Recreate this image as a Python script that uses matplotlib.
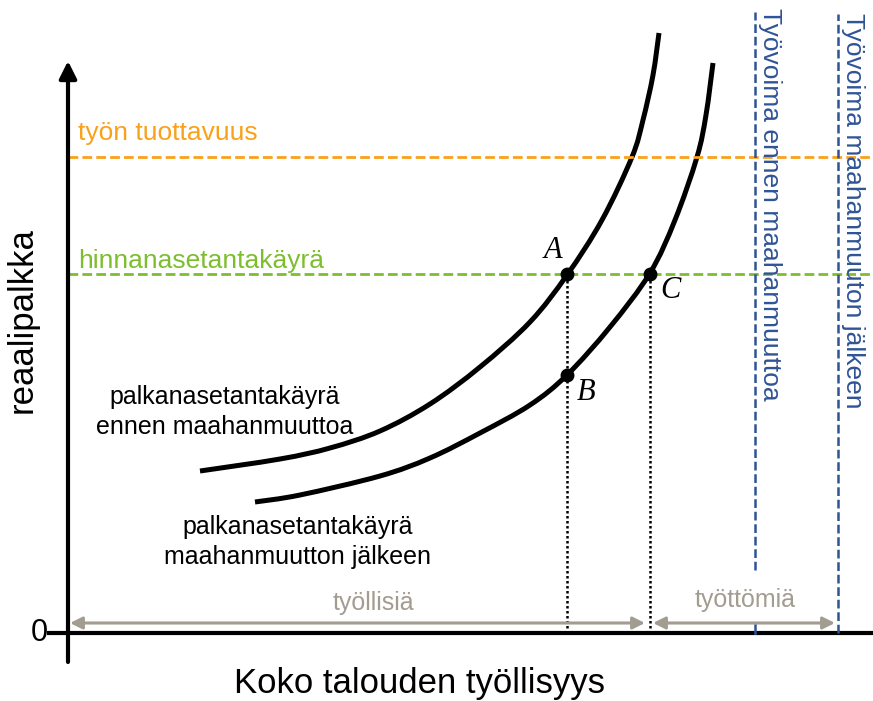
# Palkanasetanta- ja hinnanasetantakäyrät ennen ja jälkeen maahanmuuton
import matplotlib.pyplot as plt
from matplotlib.path import Path
from matplotlib.patches import PathPatch

plt.rcParams['font.family'] = ['Liberation Sans', 'DejaVu Sans']

# curves (x = työllisyys, y = reaalipalkka)
ws_before_x = [132, 212, 262, 312, 362, 412, 462, 499, 534, 564, 575, 585, 591]
ws_before_y = [162, 174, 185, 202, 229, 266, 311, 358, 413, 476, 513, 558, 600]
ws_after_x = [187, 232, 312, 362, 412, 462, 499, 542, 582, 607, 629, 638, 645]
ws_after_y = [131, 138, 157, 175, 200, 228, 258, 306, 360, 413, 476, 518, 570]

productivity = 476
price_setting = 359
labour_before = 687
labour_after = 770

point_names = ['A', 'B', 'C']
point_x = [499, 499, 582]
point_y = [359, 258, 359]

orange = '#F9A11B'
green = '#7DBE2F'
blue = '#2F5496'
grey = '#A29C91'


def smooth_curve(xs, ys):
    # Catmull-Rom through the read points, drawn as cubic Bezier segments
    pts = list(zip(xs, ys))
    pts = [pts[0]] + pts + [pts[-1]]
    verts = [pts[1]]
    codes = [Path.MOVETO]
    for i in range(1, len(pts) - 2):
        p0, p1, p2, p3 = pts[i - 1], pts[i], pts[i + 1], pts[i + 2]
        c1 = (p1[0] + (p2[0] - p0[0]) / 6, p1[1] + (p2[1] - p0[1]) / 6)
        c2 = (p2[0] - (p3[0] - p1[0]) / 6, p2[1] - (p3[1] - p1[1]) / 6)
        verts += [c1, c2, p2]
        codes += [Path.CURVE4] * 3
    return Path(verts, codes)


fig = plt.figure(figsize=(8.73, 7.01), dpi=100)
ax = fig.add_axes([0, 0, 1, 1])
ax.set_xlim(-68, 805)
ax.set_ylim(-68, 633)
ax.axis('off')

# axes
ax.plot([-21, 805], [0, 0], color='black', lw=3, solid_capstyle='butt')
ax.annotate('', xy=(0, 572), xytext=(0, -29),
            arrowprops=dict(arrowstyle='-|>', mutation_scale=26, lw=3,
                            color='black', shrinkA=0, shrinkB=0))
ax.text(-20, 0, '0', fontsize=22, ha='right', va='center')
ax.text(-46, 313, 'reaalipalkka', fontsize=25, rotation=90, ha='center', va='center')
ax.text(352, -50, 'Koko talouden työllisyys', fontsize=25, ha='center', va='center')

# horizontal lines
ax.plot([0, 805], [productivity, productivity], color=orange, lw=2, dashes=(3.5, 1.5))
ax.text(10, 500, 'työn tuottavuus', color=orange, fontsize=19, ha='left', va='center')
ax.plot([0, 805], [price_setting, price_setting], color=green, lw=2, dashes=(3.5, 1.5))
ax.text(10, 372, 'hinnanasetantakäyrä', color=green, fontsize=19, ha='left', va='center')

# labour force lines (the first one is broken by the "työttömiä" label)
ax.plot([labour_before, labour_before], [63, 621], color=blue, lw=1.8, dashes=(3.5, 1.5))
ax.plot([labour_before, labour_before], [0, 8], color=blue, lw=1.8)
ax.plot([labour_after, labour_after], [0, 619], color=blue, lw=1.8, dashes=(3.5, 1.5))
ax.text(labour_before + 15, 625, 'Työvoima ennen maahanmuuttoa', color=blue,
        fontsize=19, rotation=-90, ha='center', va='top')
ax.text(labour_after + 15, 620, 'Työvoima maahanmuuton jälkeen', color=blue,
        fontsize=19, rotation=-90, ha='center', va='top')

# wage setting curves
for xs, ys in [(ws_before_x, ws_before_y), (ws_after_x, ws_after_y)]:
    ax.add_patch(PathPatch(smooth_curve(xs, ys), fill=False, edgecolor='black',
                           lw=3.6, capstyle='butt'))
ax.text(157, 221, 'palkanasetantakäyrä\nennen maahanmuuttoa', fontsize=18,
        ha='center', va='center', linespacing=1.3)
ax.text(230, 91, 'palkanasetantakäyrä\nmaahanmuutton jälkeen', fontsize=18,
        ha='center', va='center', linespacing=1.3)

# dotted guides and points
ax.plot([point_x[0], point_x[0]], [0, point_y[0]], color='black', lw=1.8, dashes=(1, 1))
ax.plot([point_x[2], point_x[2]], [0, point_y[2]], color='black', lw=1.8, dashes=(1, 1))
ax.plot(point_x, point_y, 'o', color='black', markersize=9)
offsets = [(-14, 24), (19, -17), (20, -17)]
for name, px, py, (dx, dy) in zip(point_names, point_x, point_y, offsets):
    ax.text(px + dx, py + dy, name, fontsize=22, family='Liberation Serif',
            style='italic', ha='center', va='center')

# työlliset / työttömät arrows
ax.annotate('', xy=(2, 10), xytext=(577, 10),
            arrowprops=dict(arrowstyle='<|-|>', mutation_scale=18, lw=2.2,
                            color=grey, shrinkA=0, shrinkB=0))
ax.annotate('', xy=(585, 10), xytext=(767, 10),
            arrowprops=dict(arrowstyle='<|-|>', mutation_scale=18, lw=2.2,
                            color=grey, shrinkA=0, shrinkB=0))
ax.text(305, 30, 'työllisiä', color=grey, fontsize=18, ha='center', va='center')
ax.text(677, 33, 'työttömiä', color=grey, fontsize=18, ha='center', va='center')

fig.savefig('out.png', dpi=100)
